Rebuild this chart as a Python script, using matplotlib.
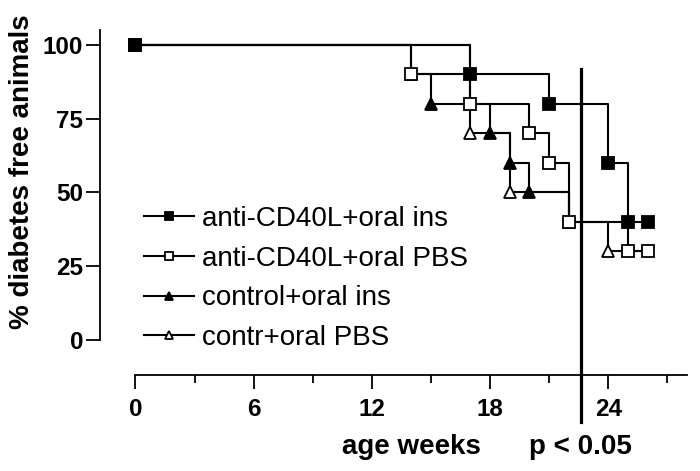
import matplotlib
matplotlib.use("Agg")
import matplotlib.pyplot as plt

plt.rcParams['font.family'] = ['Liberation Sans', 'DejaVu Sans']

# Kaplan-Meier style data (weeks, % diabetes free)
ins_cd40_t = [0, 17, 21, 24, 25, 26]
ins_cd40_y = [100, 90, 80, 60, 40, 40]

pbs_cd40_t = [0, 14, 17, 20, 21, 22, 25, 26]
pbs_cd40_y = [100, 90, 80, 70, 60, 40, 30, 30]

ins_ctrl_t = [0, 14, 15, 18, 19, 20, 22]
ins_ctrl_y = [100, 90, 80, 70, 60, 50, 40]

pbs_ctrl_t = [0, 17, 19, 22, 24, 26]
pbs_ctrl_y = [100, 70, 50, 40, 30, 30]

labels = ["anti-CD40L+oral ins", "anti-CD40L+oral PBS",
          "control+oral ins", "contr+oral PBS"]
x_ticks = [0, 6, 12, 18, 24]
y_ticks = [0, 25, 50, 75, 100]
p_line_x = 22.6

fig = plt.figure(figsize=(7.0, 4.71), dpi=100)
ax = fig.add_axes([100/700, 1-375.4/471, 587/700, (375.4-30.25)/471])
ax.set_xlim(-1.8, 28)
ax.set_ylim(-12, 105)

lw = 1.5
ms = 8
series = [
    (ins_ctrl_t, ins_ctrl_y, '^', 'black', labels[2], None),
    (pbs_ctrl_t, pbs_ctrl_y, '^', 'white', labels[3], [1, 2, 3, 4]),
    (pbs_cd40_t, pbs_cd40_y, 's', 'white', labels[1], None),
    (ins_cd40_t, ins_cd40_y, 's', 'black', labels[0], None),
]
handles = {}
for i, (t, y, m, fc, lab, me) in enumerate(series):
    h, = ax.step(t, y, where='post', color='black', lw=lw, marker=m,
                 markersize=ms, markerfacecolor=fc, markeredgecolor='black',
                 markeredgewidth=1.3, markevery=me, label=lab, zorder=3 + i,
                 clip_on=False)
    handles[lab] = h

ax.plot([p_line_x, p_line_x], [92, -27.8], color='black', lw=2.3,
        clip_on=False, zorder=10)

for s in ['top', 'right']:
    ax.spines[s].set_visible(False)
ax.spines['left'].set_bounds(0, 105)
ax.spines['bottom'].set_bounds(0, 28)
ax.spines['left'].set_linewidth(1.3)
ax.spines['bottom'].set_linewidth(1.3)

ax.set_xticks(x_ticks)
ax.set_xticks([3, 9, 15, 21, 27], minor=True)
ax.set_yticks(y_ticks)
ax.tick_params(axis='both', which='major', length=10, width=1.3,
               labelsize=17.5)
ax.tick_params(axis='y', which='major', pad=2)
ax.tick_params(axis='x', which='major', pad=6)
ax.tick_params(axis='x', which='minor', length=6, width=1.3)
for lbl in ax.get_xticklabels() + ax.get_yticklabels():
    lbl.set_fontweight('bold')

leg = ax.legend([handles[l] for l in labels], labels, loc='upper left',
                bbox_to_anchor=(144/700, 1-206/471),
                bbox_transform=fig.transFigure, frameon=False,
                fontsize=20, handlelength=1.8, handletextpad=0.3,
                labelspacing=0.49, borderpad=0, borderaxespad=0,
                markerscale=0.75)

fig.text(22/700, 1-172/471, "% diabetes free animals", rotation=90,
         ha='center', va='center', fontsize=20, fontweight='bold')
fig.text(411/700, 1-447/471, "age weeks", ha='center', va='center',
         fontsize=20, fontweight='bold')
fig.text(580/700, 1-447/471, "p < 0.05", ha='center', va='center',
         fontsize=20, fontweight='bold')

fig.savefig("out.png", dpi=100)
